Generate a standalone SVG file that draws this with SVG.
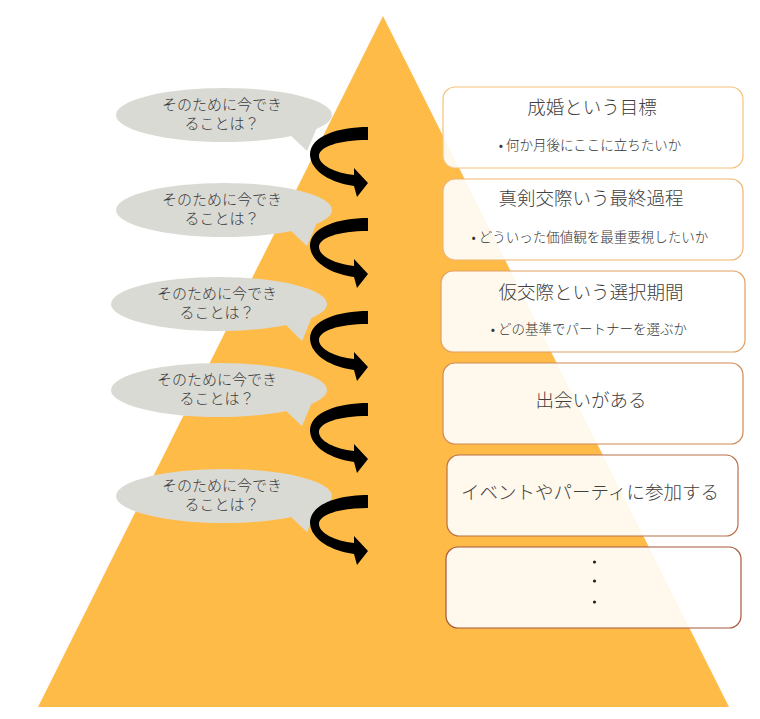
<svg xmlns="http://www.w3.org/2000/svg" width="760" height="719" viewBox="0 0 760 719">
<defs>
<style>
.tri{fill:#FFBB48}
.box{fill:#FFFFFF;fill-opacity:0.9;stroke-width:1.2}
.title{font-family:"Noto Sans CJK JP","Noto Sans",sans-serif;font-size:18.5px;font-weight:300;fill:#404040;text-anchor:middle}
.sub{font-family:"Noto Sans CJK JP","Noto Sans",sans-serif;font-size:13.5px;font-weight:300;fill:#333333;text-anchor:middle}
.bub{fill:#DADAD5}
.btxt{font-family:"Noto Sans CJK JP","Noto Sans",sans-serif;font-size:15px;font-weight:300;fill:#3A3A3A;text-anchor:middle}
.arr{fill:#000000}
.dot{fill:#222222}
</style>
<path id="carrow" class="arr" d="M0 0 C-30 0 -58 9 -58 28 C-57 45 -36 56 -14 59 L-11 70 L0 56 L-14 41 L-14 48 C-33 46 -49 38 -49 29 C-49 20 -30 13 0 13 Z"/>
</defs>
<rect width="760" height="719" fill="#FFFFFF"/>
<polygon class="tri" points="383,16 729,707 38,707"/>

<g id="bubble1">
<ellipse class="bub" cx="224" cy="115" rx="108" ry="27"/>
<polygon class="bub" points="289,134 307,151 318,125"/>
<text class="btxt" x="222" y="110">そのために今でき</text>
<text class="btxt" x="222" y="129">ることは？</text>
</g>
<g id="bubble2">
<ellipse class="bub" cx="224" cy="210" rx="108" ry="27"/>
<polygon class="bub" points="289,229 307,246 318,220"/>
<text class="btxt" x="222" y="205">そのために今でき</text>
<text class="btxt" x="222" y="224">ることは？</text>
</g>
<g id="bubble3">
<ellipse class="bub" cx="219" cy="304" rx="108" ry="27"/>
<polygon class="bub" points="284,323 302,341 313,314"/>
<text class="btxt" x="217" y="299">そのために今でき</text>
<text class="btxt" x="217" y="318">ることは？</text>
</g>
<g id="bubble4">
<ellipse class="bub" cx="219" cy="390" rx="108" ry="27"/>
<polygon class="bub" points="284,409 302,426 313,400"/>
<text class="btxt" x="217" y="385">そのために今でき</text>
<text class="btxt" x="217" y="404">ることは？</text>
</g>
<g id="bubble5">
<ellipse class="bub" cx="224" cy="496" rx="108" ry="27"/>
<polygon class="bub" points="289,515 307,532 318,506"/>
<text class="btxt" x="222" y="491">そのために今でき</text>
<text class="btxt" x="222" y="510">ることは？</text>
</g>

<g id="connectors">
<use href="#carrow" transform="translate(368,127)"/>
<use href="#carrow" transform="translate(368,218)"/>
<use href="#carrow" transform="translate(368,311)"/>
<use href="#carrow" transform="translate(368,403)"/>
<use href="#carrow" transform="translate(368,495)"/>
</g>

<g id="box1">
<rect class="box" x="443" y="87" width="300" height="81" rx="12" stroke="#F6C27A"/>
<text class="title" x="592" y="114">成婚という目標</text>
<text class="sub" x="590" y="150">• 何か月後にここに立ちたいか</text>
</g>
<g id="box2">
<rect class="box" x="443" y="179" width="300" height="81" rx="12" stroke="#EFB46E"/>
<text class="title" x="591" y="205">真剣交際いう最終過程</text>
<text class="sub" x="590" y="242">• どういった価値観を最重要視したいか</text>
</g>
<g id="box3">
<rect class="box" x="441" y="271" width="304" height="81" rx="12" stroke="#E0A062"/>
<text class="title" x="591" y="299">仮交際という選択期間</text>
<text class="sub" x="589" y="334">• どの基準でパートナーを選ぶか</text>
</g>
<g id="box4">
<rect class="box" x="443" y="363" width="300" height="81" rx="12" stroke="#CF8A55"/>
<text class="title" x="591" y="407">出会いがある</text>
</g>
<g id="box5">
<rect class="box" x="447" y="455" width="291" height="81" rx="12" stroke="#BA7048"/>
<text class="title" x="590" y="499">イベントやパーティに参加する</text>
</g>
<g id="box6">
<rect class="box" x="446" y="547" width="295" height="81" rx="12" stroke="#A5583A"/>
<circle class="dot" cx="594.5" cy="562" r="1.6"/>
<circle class="dot" cx="594.5" cy="581" r="1.6"/>
<circle class="dot" cx="594.5" cy="602" r="1.6"/>
</g>
</svg>
